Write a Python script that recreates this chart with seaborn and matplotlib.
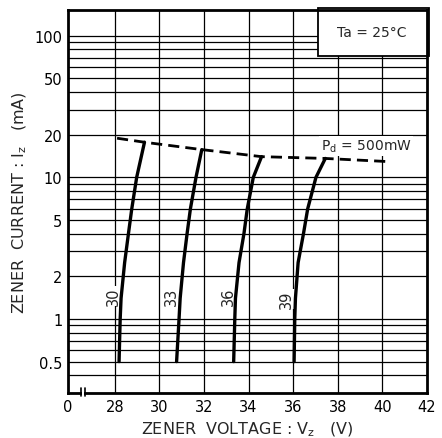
import numpy as np
import pandas as pd
import matplotlib
matplotlib.use("Agg")
import matplotlib.pyplot as plt
import seaborn as sns

# ---- data ----
curve_names = ["30", "33", "36", "39"]
cur_30 = [0.5, 1.0, 1.4, 2.5, 4.0, 6.0, 10.0, 17.7]
vol_30 = [28.19, 28.24, 28.28, 28.44, 28.61, 28.76, 28.98, 29.33]
cur_33 = [0.5, 1.0, 1.4, 2.5, 4.0, 6.0, 10.0, 15.7]
vol_33 = [30.77, 30.88, 30.93, 31.08, 31.24, 31.39, 31.64, 31.90]
cur_36 = [0.5, 1.0, 1.4, 2.5, 4.0, 6.0, 10.0, 14.0]
vol_36 = [33.33, 33.38, 33.41, 33.57, 33.79, 33.94, 34.21, 34.58]
cur_39 = [0.5, 1.0, 1.4, 2.5, 4.0, 6.0, 10.0, 13.6]
vol_39 = [36.04, 36.07, 36.10, 36.22, 36.46, 36.65, 37.02, 37.44]

pd_vol = [28.1, 29.33, 31.90, 32.67, 34.58, 37.44, 40.35]
pd_cur = [18.9, 17.7, 15.7, 15.2, 14.0, 13.6, 12.9]

label_vol = [27.92, 30.52, 33.08, 35.70]
label_cur = [1.46, 1.46, 1.46, 1.38]

x_ticks = [25.9, 28, 30, 32, 34, 36, 38, 40, 42]
x_ticklabels = ["0", "28", "30", "32", "34", "36", "38", "40", "42"]
y_ticks = [0.5, 1, 2, 5, 10, 20, 50, 100]
y_ticklabels = ["0.5", "1", "2", "5", "10", "20", "50", "100"]

# ---- build table ----
frames = []
for name, v, c in zip(curve_names, [vol_30, vol_33, vol_36, vol_39],
                      [cur_30, cur_33, cur_36, cur_39]):
    frames.append(pd.DataFrame({"V": v, "I": c, "type": name}))
df = pd.concat(frames, ignore_index=True)
df_pd = pd.DataFrame({"V": pd_vol, "I": pd_cur})

sns.set_style("white")
plt.rcParams["font.family"] = ["DejaVu Sans"]

fig = plt.figure(figsize=(4.42, 4.39), dpi=100)
ax = fig.add_axes([68 / 442, 45 / 439, 359 / 442, 383 / 439])

sns.lineplot(data=df, x="V", y="I", units="type", estimator=None, sort=False,
             color="black", linewidth=2.4, ax=ax, zorder=4)
sns.lineplot(data=df_pd, x="V", y="I", sort=False, color="black",
             linewidth=2.0, ax=ax, zorder=4, linestyle=(0, (4, 2.2)))

ax.set_yscale("log")
ax.set_xlim(25.9, 42)
ax.set_ylim(0.3, 152)

ax.set_xticks(x_ticks)
ax.set_xticklabels(x_ticklabels, fontsize=10.5)
ax.set_yticks(y_ticks)
ax.set_yticklabels(y_ticklabels, fontsize=10.5)
minor = [m * d for d in [0.1, 1, 10, 100] for m in range(1, 10)]
minor = [m for m in minor if 0.3 < m < 152 and m not in y_ticks]
ax.set_yticks(minor, minor=True)
ax.yaxis.set_minor_formatter(matplotlib.ticker.NullFormatter())
ax.tick_params(axis="both", which="both", length=0, pad=4, colors="black")

ax.grid(False)
for y in list(y_ticks) + minor:
    ax.axhline(y, color="black", linewidth=0.9, zorder=1)
for x in x_ticks[1:-1]:
    ax.axvline(x, color="black", linewidth=0.9, zorder=1)

for s in ax.spines.values():
    s.set_color("black")
    s.set_linewidth(2.0)
    s.set_zorder(5)

ax.set_xlabel("ZENER  VOLTAGE : V$_\\mathregular{z}$   (V)", fontsize=11.5, labelpad=4)
ax.set_ylabel("ZENER  CURRENT : I$_\\mathregular{z}$   (mA)", fontsize=11.5, labelpad=4)

# curve labels
for name, v, c in zip(curve_names, label_vol, label_cur):
    ax.text(v, c, name, rotation=90, ha="center", va="center", fontsize=10.5,
            zorder=3, bbox=dict(facecolor="white", edgecolor="none", pad=0.5))

# Pd label
ax.text(0.704, 0.645, "P$_\\mathregular{d}$ = 500mW", transform=ax.transAxes,
        ha="left", va="center", fontsize=10, zorder=3,
        bbox=dict(facecolor="white", edgecolor="none", pad=1))

# Ta box
ax.add_patch(matplotlib.patches.Rectangle((0.696, 0.880), 0.31, 0.125,
             transform=ax.transAxes, facecolor="white", edgecolor="black",
             linewidth=1.3, zorder=3, clip_on=False))
ax.text(0.846, 0.942, "Ta = 25°C", transform=ax.transAxes, ha="center",
        va="center", fontsize=10, zorder=4)

# axis break marks
bx0 = (81 - 68) / 359
bx1 = (85 - 68) / 359
ax.add_patch(matplotlib.patches.Rectangle((bx0 + 0.002, -0.01), bx1 - bx0 - 0.004, 0.02,
             transform=ax.transAxes, facecolor="white", edgecolor="none",
             zorder=6, clip_on=False))
for bx in (bx0, bx1):
    ax.plot([bx, bx], [-0.008, 0.012], transform=ax.transAxes, color="black",
            linewidth=1.2, zorder=7, clip_on=False)

fig.savefig("out.png", dpi=100, facecolor="white")
